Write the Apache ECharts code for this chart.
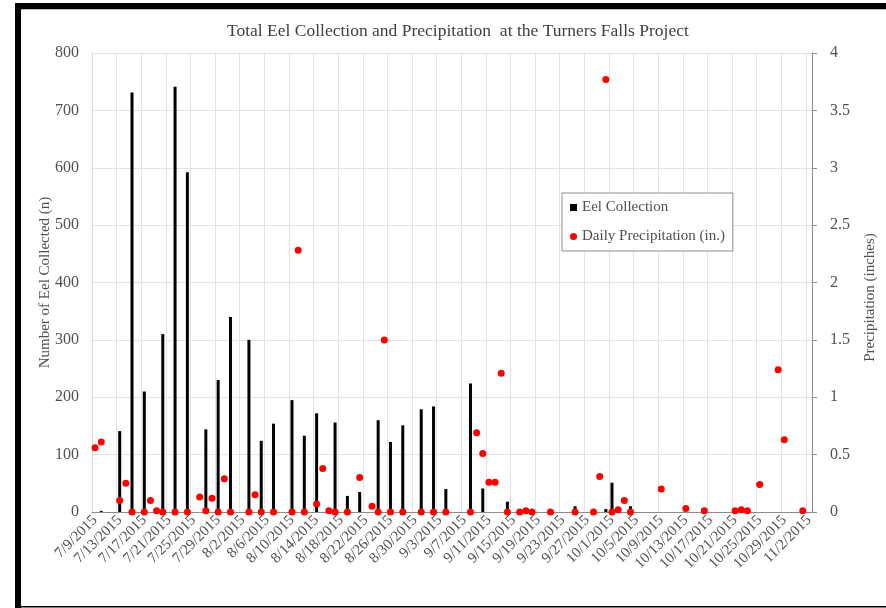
<!DOCTYPE html>
<html>
<head>
<meta charset="utf-8">
<script src="https://cdn.jsdelivr.net/npm/echarts@6/dist/echarts.min.js"></script>
<style>html,body{margin:0;padding:0;background:#fff;}#c{width:886px;height:608px;}</style>
</head>
<body>
<div id="c"></div>
<script>
// Category axis: every day from 7/9/2015 to 11/2/2015
const startDate = [2015, 7, 9];
const dayCount = 117;
const categories = [];
(function () {
  const d = new Date(startDate[0], startDate[1] - 1, startDate[2]);
  for (let i = 0; i < dayCount; i++) {
    categories.push((d.getMonth() + 1) + '/' + d.getDate() + '/' + d.getFullYear());
    d.setDate(d.getDate() + 1);
  }
})();

// Eel collection (n) on sampling days
const eelDates = ['7/10/2015','7/13/2015','7/15/2015','7/17/2015','7/20/2015','7/22/2015','7/24/2015','7/27/2015','7/29/2015','7/31/2015',
  '8/3/2015','8/5/2015','8/7/2015','8/10/2015','8/12/2015','8/14/2015','8/17/2015','8/19/2015','8/21/2015','8/24/2015',
  '8/26/2015','8/28/2015','8/31/2015','9/2/2015','9/4/2015','9/8/2015','9/10/2015','9/14/2015','9/16/2015','9/18/2015',
  '9/25/2015','9/30/2015','10/1/2015','10/4/2015'];
const eelValues = [2,141,731,210,310,741,592,144,230,340,
  300,124,154,195,133,172,156,28,35,160,
  122,151,179,184,40,224,41,18,4,5,
  10,5,51,10];

// Daily precipitation (in.)
const rainDates = ['7/9/2015','7/10/2015','7/13/2015','7/14/2015','7/15/2015','7/17/2015','7/18/2015','7/19/2015','7/20/2015','7/22/2015',
  '7/24/2015','7/26/2015','7/27/2015','7/28/2015','7/29/2015','7/30/2015','7/31/2015','8/3/2015','8/4/2015','8/5/2015',
  '8/7/2015','8/10/2015','8/11/2015','8/12/2015','8/14/2015','8/15/2015','8/16/2015','8/17/2015','8/19/2015','8/21/2015',
  '8/23/2015','8/24/2015','8/25/2015','8/26/2015','8/28/2015','8/31/2015','9/2/2015','9/4/2015','9/8/2015','9/9/2015',
  '9/10/2015','9/11/2015','9/12/2015','9/13/2015','9/14/2015','9/16/2015','9/17/2015','9/18/2015','9/21/2015','9/25/2015',
  '9/28/2015','9/29/2015','9/30/2015','10/1/2015','10/2/2015','10/3/2015','10/4/2015','10/9/2015','10/13/2015','10/16/2015',
  '10/21/2015','10/22/2015','10/23/2015','10/25/2015','10/28/2015','10/29/2015','11/1/2015'];
const rainValues = [0.56,0.61,0.10,0.25,0,0,0.10,0.01,0,0,
  0,0.13,0.01,0.12,0,0.29,0,0,0.15,0,
  0,0,2.28,0,0.07,0.38,0.01,0,0,0.30,
  0.05,0,1.50,0,0,0,0,0,0,0.69,
  0.51,0.26,0.26,1.21,0,0,0.01,0,0,0,
  0,0.31,3.77,0,0.02,0.10,0,0.20,0.03,0.01,
  0.01,0.02,0.01,0.24,1.24,0.63,0.01];

const leftTicks = {min: 0, max: 800, interval: 100};
const rightTicks = {min: 0, max: 4, interval: 0.5};

const serif = '"Liberation Serif", "Times New Roman", serif';
const txt = '#505050';

const chart = echarts.init(document.getElementById('c'), null, {renderer: 'canvas'});
chart.setOption({
  animation: false,
  backgroundColor: '#fff',
  title: {
    text: 'Total Eel Collection and Precipitation  at the Turners Falls Project',
    left: 222, top: 17,
    textStyle: {fontFamily: serif, fontSize: 17.5, fontWeight: 'normal', color: '#404040'}
  },
  grid: {left: 92, right: 69, top: 53, bottom: 96, containLabel: false},
  legend: {
    orient: 'vertical', left: 562, top: 193,
    padding: [7, 8, 7, 8], itemGap: 14,
    itemWidth: 7, itemHeight: 7,
    backgroundColor: '#fff', borderColor: '#8c8c8c', borderWidth: 1,
    textStyle: {fontFamily: serif, fontSize: 15, color: txt},
    data: [
      {name: 'Eel Collection', icon: 'rect'},
      {name: 'Daily Precipitation (in.)', icon: 'circle'}
    ]
  },
  xAxis: [{
    type: 'category', data: categories, boundaryGap: true,
    axisLine: {show: true, lineStyle: {color: '#d9d9d9'}},
    axisTick: {show: false, interval: 3},
    axisLabel: {interval: 3, rotate: 45, margin: 6, fontFamily: serif, fontSize: 15, color: txt, hideOverlap: false},
    splitLine: {show: true, interval: 3, lineStyle: {color: '#e3e3e3', width: 1}}
  }, {
    type: 'category', data: categories, position: 'top', boundaryGap: true,
    axisLine: {show: true, lineStyle: {color: '#8c8c8c'}},
    axisTick: {show: false}, axisLabel: {show: false}, splitLine: {show: false}
  }],
  yAxis: [{
    type: 'value', min: leftTicks.min, max: leftTicks.max, interval: leftTicks.interval,
    name: 'Number of Eel Collected (n)', nameLocation: 'middle', nameGap: 39, nameRotate: 90,
    nameMoveOverlap: false,
    nameTextStyle: {fontFamily: serif, fontSize: 15, color: txt},
    axisLine: {show: true, lineStyle: {color: '#d9d9d9'}},
    axisTick: {show: false},
    axisLabel: {margin: 13, fontFamily: serif, fontSize: 16, color: txt},
    splitLine: {show: true, lineStyle: {color: '#e3e3e3', width: 1}}
  }, {
    type: 'value', min: rightTicks.min, max: rightTicks.max, interval: rightTicks.interval,
    position: 'right',
    name: 'Precipitation (inches)', nameLocation: 'middle', nameGap: 51, nameRotate: 90,
    nameMoveOverlap: false,
    nameTextStyle: {fontFamily: serif, fontSize: 15, color: txt, padding: [0, 30, 0, 0]},
    axisLine: {show: true, lineStyle: {color: '#8c8c8c'}},
    axisTick: {show: true, length: 5, lineStyle: {color: '#8c8c8c'}},
    axisLabel: {margin: 18, fontFamily: serif, fontSize: 16, color: txt},
    splitLine: {show: false}
  }],
  series: [{
    name: 'Eel Collection', type: 'bar', xAxisIndex: 0, yAxisIndex: 0,
    barWidth: 3, itemStyle: {color: '#000'},
    data: eelDates.map((d, i) => [d, eelValues[i]]),
    z: 2
  }, {
    name: 'Daily Precipitation (in.)', type: 'scatter', xAxisIndex: 0, yAxisIndex: 1,
    symbol: 'circle', symbolSize: 7, itemStyle: {color: '#ff0000', opacity: 1},
    data: rainDates.map((d, i) => [d, rainValues[i]]),
    z: 3
  }],
  graphic: [
    {type: 'rect', shape: {x: 15, y: 3, width: 871, height: 6}, style: {fill: '#000'}},
    {type: 'rect', shape: {x: 15, y: 3, width: 6, height: 605}, style: {fill: '#000'}},
    {type: 'rect', shape: {x: 15, y: 606, width: 871, height: 1.5}, style: {fill: '#000'}},
    {type: 'rect', shape: {x: 21, y: 9, width: 865, height: 1}, style: {fill: '#bfbfbf'}}
  ]
});
</script>
</body>
</html>
